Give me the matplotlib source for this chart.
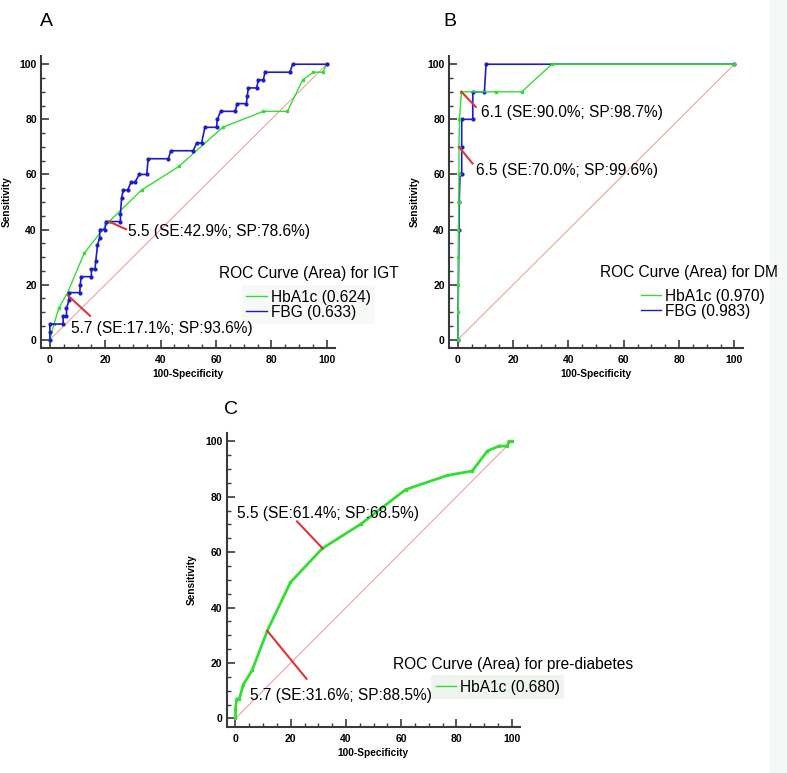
import numpy as np
import matplotlib
matplotlib.use("Agg")
import matplotlib.pyplot as plt

plt.rcParams['font.family'] = ['Liberation Sans', 'DejaVu Sans']

# ---- data ----
# A: IGT
a_hba1c_x = [0, 1.5, 3.2, 6.4, 12.4, 21.4, 33.1, 46.6, 62.4, 77.1, 85.8, 91.3, 95.2, 98.6, 100]
a_hba1c_y = [0, 5.7, 11.4, 17.1, 31.4, 42.9, 54.3, 62.9, 77.1, 82.9, 82.9, 94.3, 97.1, 97.1, 100]
a_fbg_x = [0, 0, 0, 4.8, 4.8, 6, 6, 6.9, 6.9, 10.8, 11, 11.3, 15, 15, 16.3, 16.6, 17.2, 18, 18,
           19.9, 20.2, 25.5, 25.5, 25.9, 26.5, 28.1, 29.3, 30.7, 32.3, 35, 35.5, 42.8, 43.7,
           51.8, 53, 54.8, 56, 60.2, 60.5, 61.7, 66.9, 67.7, 71, 71.3, 71.7, 74.7, 75.3, 77.1,
           77.7, 86.7, 87.7, 100]
a_fbg_y = [0, 2.9, 5.7, 5.7, 8.6, 8.6, 11.4, 14.3, 17.1, 17.1, 20, 22.9, 22.9, 25.7, 25.7, 28.6,
           34.3, 37.1, 40, 40, 42.9, 42.9, 45.7, 51.4, 54.3, 54.3, 57.1, 57.1, 60, 60, 65.7,
           65.7, 68.6, 68.6, 71.4, 71.4, 77.1, 77.1, 80, 82.9, 82.9, 85.7, 85.7, 88.6, 91.4,
           91.4, 94.3, 94.3, 97.1, 97.1, 100, 100]

# B: DM
b_hba1c_x = [0, 0.2, 0.2, 0.2, 0.2, 0.4, 0.4, 0.4, 0.6, 1.3, 13.7, 23.1, 34, 100]
b_hba1c_y = [0, 10, 20, 30, 40, 50, 60, 70, 80, 90, 90, 90, 100, 100]
b_fbg_x = [0, 0.4, 0.5, 0.8, 1.4, 1.4, 1.4, 5.4, 5.4, 9.6, 10.2, 100]
b_fbg_y = [0, 40, 50, 60, 60, 70, 80, 80, 90, 90, 100, 100]

# C: pre-diabetes
c_hba1c_x = [0, 0, 0.4, 1.4, 2.8, 6, 11.5, 19.9, 31.5, 45.3, 61.6, 76.7, 85.7, 91.2, 95.4, 98.4, 99, 100]
c_hba1c_y = [0, 3.4, 7, 7, 12.2, 17.3, 31.6, 49.1, 61.4, 70.1, 82.6, 87.7, 89.3, 96.5, 98.3, 98.3, 100, 100]

# legend labels
a_labels = ['HbA1c (0.624)', 'FBG (0.633)']
b_labels = ['HbA1c (0.970)', 'FBG (0.983)']
c_labels = ['HbA1c (0.680)']

# cut-off annotations: (curve point, end of red line, text position, text)
a_cuts = [((21.4, 42.9), (27.5, 40.1), (28.3, 39.2), "5.5 (SE:42.9%; SP:78.6%)"),
          ((6.6, 16.0), (14.5, 8.7), (7.8, 4.2), "5.7 (SE:17.1%; SP:93.6%)")]
b_cuts = [((1.3, 90), (6.5, 84.5), (8.3, 82.4), "6.1 (SE:90.0%; SP:98.7%)"),
          ((0.4, 70), (5.3, 64.0), (6.5, 61.6), "6.5 (SE:70.0%; SP:99.6%)")]
c_cuts = [((31.5, 61.4), (22.3, 71.1), (0.6, 74.1), "5.5 (SE:61.4%; SP:68.5%)"),
          ((11.5, 31.6), (25.7, 14.3), (5.4, 8.2), "5.7 (SE:31.6%; SP:88.5%)")]

GREEN = '#33dd33'
BLUE = '#1c1ccc'
RED = '#e03535'
DIAG = '#f2a0a0'
FS = 11.2


def style_axes(ax):
    ax.patch.set_alpha(0)
    ax.set_xlim(-3.2, 103)
    ax.set_ylim(-3, 103)
    for s in ['top', 'right']:
        ax.spines[s].set_visible(False)
    for s in ['left', 'bottom']:
        ax.spines[s].set_color('#3a3a3a')
        ax.spines[s].set_linewidth(1.5)
    ax.set_xticks(np.arange(0, 101, 20))
    ax.set_yticks(np.arange(0, 101, 20))
    ax.set_xticks(np.arange(0, 101, 5), minor=True)
    ax.set_yticks(np.arange(0, 101, 5), minor=True)
    ax.tick_params(which='major', direction='in', length=5.5, width=1.2, color='#3a3a3a',
                   labelsize=7.5)
    ax.tick_params(which='minor', direction='in', length=3, width=1, color='#3a3a3a')
    ax.tick_params(axis='y', which='major', pad=3)
    ax.tick_params(axis='x', which='major', pad=5)
    for lab in ax.get_xticklabels() + ax.get_yticklabels():
        lab.set_fontweight('bold')
    ax.set_xlabel('100-Specificity', fontsize=7.3, fontweight='bold', labelpad=3)
    ax.set_ylabel('Sensitivity', fontsize=7.3, fontweight='bold', labelpad=6)
    ax.plot([0, 100], [0, 100], color=DIAG, lw=0.8, zorder=1)


def add_cuts(ax, cuts):
    for pt, end, tpos, txt in cuts:
        ax.plot([pt[0], end[0]], [pt[1], end[1]], color=RED, lw=1.5, zorder=5)
        ax.text(tpos[0], tpos[1], txt, fontsize=FS, ha='left', va='center', zorder=6)


def add_legend(ax, colors, labels, title, tpos, lpos, face):
    ax.text(tpos[0], tpos[1], title, transform=ax.transAxes, fontsize=FS,
            ha='left', va='center')
    handles = [plt.Line2D([], [], color=c, lw=1, label=l) for c, l in zip(colors, labels)]
    leg = ax.legend(handles=handles, loc='upper left', bbox_to_anchor=lpos,
                    borderaxespad=0, borderpad=0.3, fontsize=FS, handlelength=1.3,
                    handletextpad=0.25, labelspacing=0.0, frameon=True,
                    fancybox=False)
    leg.get_frame().set_facecolor(face)
    leg.get_frame().set_edgecolor('none')
    leg.get_frame().set_alpha(1)


fig = plt.figure(figsize=(7.87, 7.73), dpi=100)
fig.patch.set_facecolor('white')
# faint strip at right edge, behind everything
bg = fig.add_axes([770 / 787, 0, 17 / 787, 1], zorder=-10)
bg.set_facecolor('#f3f7f5')
bg.set_axis_off()
bg.add_patch(plt.Rectangle((0, 0), 1, 1, color='#f3f7f5', transform=bg.transAxes))

axA = fig.add_axes([0.0521, 0.5498, 0.3736, 0.3778])
axB = fig.add_axes([0.5705, 0.5498, 0.3732, 0.3778])
axC = fig.add_axes([0.2880, 0.0599, 0.3727, 0.3799])

# ---- A ----
style_axes(axA)
axA.plot(a_hba1c_x, a_hba1c_y, color=GREEN, lw=1, marker='s', ms=2, zorder=3)
axA.plot(a_fbg_x, a_fbg_y, color=BLUE, lw=1.2, marker='o', ms=2, zorder=4)
add_cuts(axA, a_cuts)
add_legend(axA, [GREEN, BLUE], a_labels, 'ROC Curve (Area) for IGT',
           (0.605, 0.256), (0.683, 0.216), '#f7f9f7')

# ---- B ----
style_axes(axB)
axB.plot(b_fbg_x, b_fbg_y, color=BLUE, lw=1.2, marker='o', ms=2, zorder=3)
axB.plot(b_hba1c_x, b_hba1c_y, color=GREEN, lw=1, marker='s', ms=2, zorder=4)
add_cuts(axB, b_cuts)
add_legend(axB, [GREEN, BLUE], b_labels, 'ROC Curve (Area) for DM',
           (0.514, 0.257), (0.637, 0.219), 'white')

# ---- C ----
style_axes(axC)
axC.plot(c_hba1c_x, c_hba1c_y, color=GREEN, lw=2, marker='s', ms=2, zorder=3)
add_cuts(axC, c_cuts)
add_legend(axC, [GREEN], c_labels, 'ROC Curve (Area) for pre-diabetes',
           (0.568, 0.213), (0.697, 0.176), '#eef4ee')

# panel letters
fig.text(46 / 787, 1 - 22 / 773, 'A', fontsize=14, ha='center', va='center')
fig.text(450 / 787, 1 - 22 / 773, 'B', fontsize=14, ha='center', va='center')
fig.text(231 / 787, 1 - 409 / 773, 'C', fontsize=14, ha='center', va='center')

fig.savefig('out.png', dpi=100)
